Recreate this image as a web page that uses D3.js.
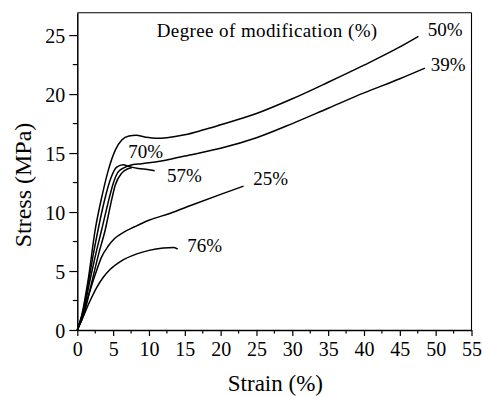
<!DOCTYPE html>
<html>
<head>
<meta charset="utf-8">
<script src="https://cdn.jsdelivr.net/npm/d3@7"></script>
<style>
  html, body { margin: 0; padding: 0; background: #fff; }
  svg { display: block; }
  text { font-family: "Liberation Serif", "Times New Roman", serif; fill: #000; }
</style>
</head>
<body>
<svg id="chart" width="482" height="396"></svg>
<script>
// Stress–strain curves for different degrees of modification
const series = ["50%", "39%", "70%", "57%", "25%", "76%"];

const strain50 = [0, 0.6, 1.5, 2.5, 3.5, 4.4, 5.3, 6.2, 7.2, 8.2, 9.5, 11, 12.5, 15, 17.5, 20, 25, 30, 35, 40, 45, 47.6];
const stress50 = [0, 1.2, 4.2, 8.5, 11.5, 13.7, 15.25, 16.1, 16.45, 16.5, 16.35, 16.25, 16.3, 16.55, 16.95, 17.4, 18.35, 19.6, 21.0, 22.45, 24.0, 24.9];

const strain39 = [0, 0.8, 1.8, 2.6, 3.4, 4.3, 5.0, 5.7, 6.5, 7.3, 9, 11.5, 15, 20, 25, 30, 35, 40, 45, 48.5];
const stress39 = [0, 1.4, 4.3, 6.5, 8.5, 10.8, 12.4, 13.4, 13.75, 13.95, 14.1, 14.3, 14.75, 15.4, 16.3, 17.5, 18.8, 20.1, 21.3, 22.2];

const strain70 = [0, 0.9, 2.0, 3.0, 3.9, 4.6, 5.3, 6.2, 7.0, 7.6];
const stress70 = [0, 1.3, 4.0, 6.5, 8.5, 10.5, 12.3, 13.3, 13.65, 13.75];

const strain57 = [0, 0.7, 1.6, 2.2, 2.9, 3.8, 4.7, 5.5, 6.4, 7.3, 8.5, 9.8, 10.8];
const stress57 = [0, 1.3, 4.2, 6.3, 8.5, 11.0, 12.9, 13.8, 14.0, 13.85, 13.7, 13.6, 13.5];

const strain25 = [0, 0.8, 1.6, 2.5, 3.4, 4.3, 5.2, 6.5, 8, 10, 13, 16, 20, 23.2];
const stress25 = [0, 1.5, 3.0, 4.7, 6.2, 7.1, 7.75, 8.3, 8.75, 9.3, 9.9, 10.6, 11.5, 12.2];

const strain76 = [0, 0.8, 1.8, 2.7, 3.6, 4.6, 6, 8.3, 10, 12, 13.5, 14];
const stress76 = [0, 1.1, 2.5, 3.6, 4.45, 5.15, 5.8, 6.45, 6.75, 6.95, 7.0, 6.85];

const strainTicks = [0, 5, 10, 15, 20, 25, 30, 35, 40, 45, 50, 55];
const stressTicks = [0, 5, 10, 15, 20, 25];

const curves = [
  { name: series[0], x: strain50, y: stress50, lx: 48.9, ly: 24.9 },
  { name: series[1], x: strain39, y: stress39, lx: 49.3, ly: 21.95 },
  { name: series[2], x: strain70, y: stress70, lx: 7.1, ly: 14.55 },
  { name: series[3], x: strain57, y: stress57, lx: 12.5, ly: 12.55 },
  { name: series[4], x: strain25, y: stress25, lx: 24.55, ly: 12.3 },
  { name: series[5], x: strain76, y: stress76, lx: 15.35, ly: 6.65 }
];

const svg = d3.select("#chart");
const margin = { left: 77.3, right: 482 - 471.5, top: 12.7, bottom: 396 - 330 };

const x = d3.scaleLinear().domain([0, 55]).range([margin.left, 482 - margin.right]);
const y = d3.scaleLinear().domain([0, 26.9]).range([396 - margin.bottom, margin.top]);

// frame: top and right edges
svg.append("line")
  .attr("x1", x(0)).attr("x2", x(55)).attr("y1", y(26.9)).attr("y2", y(26.9))
  .attr("stroke", "#000").attr("stroke-width", 1.1);
svg.append("line")
  .attr("x1", x(55)).attr("x2", x(55)).attr("y1", y(26.9)).attr("y2", y(0))
  .attr("stroke", "#000").attr("stroke-width", 1.1);

// minor ticks
const minorX = d3.range(2.5, 55, 5);
const minorY = d3.range(2.5, 26.9, 5);
svg.append("g").selectAll("line").data(minorX).join("line")
  .attr("x1", d => x(d)).attr("x2", d => x(d))
  .attr("y1", y(0)).attr("y2", y(0) + 3.5)
  .attr("stroke", "#000").attr("stroke-width", 1.2);
svg.append("g").selectAll("line").data(minorY).join("line")
  .attr("x1", x(0) - 4.5).attr("x2", x(0))
  .attr("y1", d => y(d)).attr("y2", d => y(d))
  .attr("stroke", "#000").attr("stroke-width", 1.2);

// axes
const xAxis = svg.append("g")
  .attr("transform", `translate(0,${y(0)})`)
  .call(d3.axisBottom(x).tickValues(strainTicks).tickSize(6).tickPadding(6).tickSizeOuter(0));
const yAxis = svg.append("g")
  .attr("transform", `translate(${x(0)},0)`)
  .call(d3.axisLeft(y).tickValues(stressTicks).tickSize(8).tickPadding(4).tickSizeOuter(0));

[xAxis, yAxis].forEach(a => {
  a.select(".domain").attr("stroke", "#000").attr("stroke-width", 1.5);
  a.selectAll(".tick line").attr("stroke", "#000").attr("stroke-width", 1.2);
  a.selectAll(".tick text")
    .attr("font-family", "'Liberation Serif', 'Times New Roman', serif")
    .attr("font-size", 20).attr("fill", "#000");
});
yAxis.selectAll(".tick text").attr("dy", "0.36em");

// curves
const line = d3.line()
  .x(d => x(d[0]))
  .y(d => y(d[1]))
  .curve(d3.curveMonotoneX);

svg.append("g").selectAll("path").data(curves).join("path")
  .attr("d", c => line(d3.zip(c.x, c.y)))
  .attr("fill", "none")
  .attr("stroke", "#000")
  .attr("stroke-width", 1.5)
  .attr("stroke-linejoin", "round");

// curve labels
svg.append("g").selectAll("text").data(curves).join("text")
  .attr("x", c => x(c.lx))
  .attr("y", c => y(c.ly))
  .attr("font-size", 19)
  .text(c => c.name);

// legend heading
svg.append("text")
  .attr("x", x(11.08)).attr("y", y(24.8))
  .attr("font-size", 19)
  .attr("letter-spacing", 0.4)
  .text("Degree of modification (%)");

// axis titles
svg.append("text")
  .attr("x", (x(0) + x(55)) / 2 + 1).attr("y", 391)
  .attr("text-anchor", "middle")
  .attr("font-size", 23)
  .text("Strain (%)");
svg.append("text")
  .attr("transform", "translate(31,185) rotate(-90)")
  .attr("text-anchor", "middle")
  .attr("font-size", 24)
  .text("Stress (MPa)");
</script>
</body>
</html>
